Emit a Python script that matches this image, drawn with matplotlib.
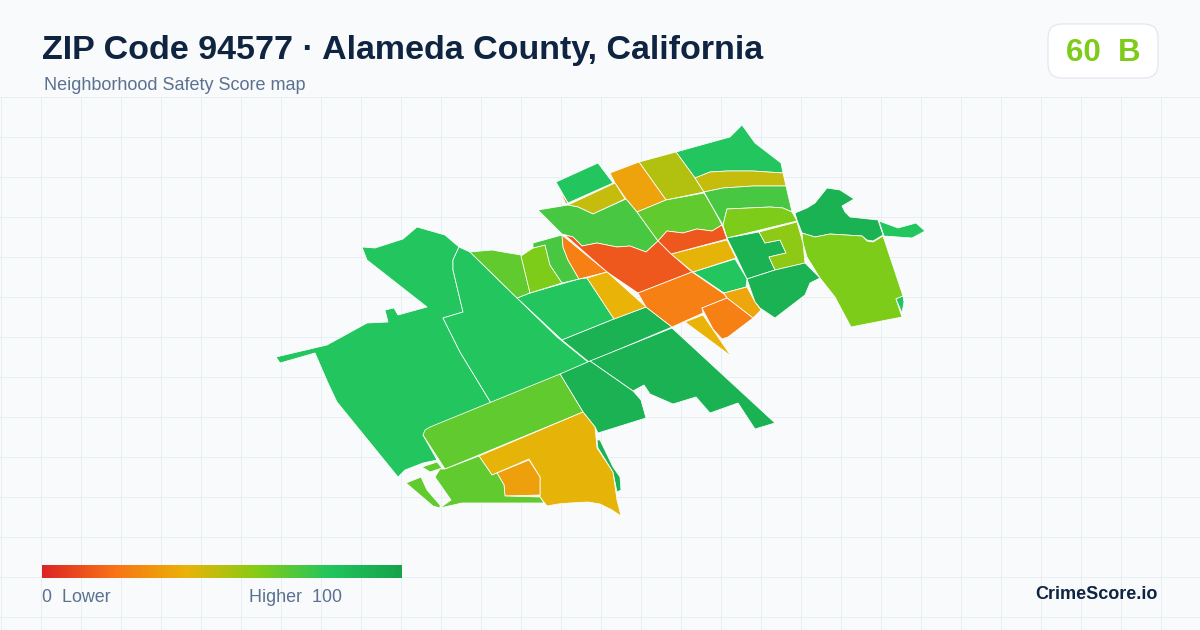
import numpy as np
import matplotlib
matplotlib.use("Agg")
import matplotlib.pyplot as plt
from matplotlib.collections import PolyCollection
from matplotlib.colors import LinearSegmentedColormap, Normalize
from matplotlib.patches import FancyBboxPatch

plt.rcParams["font.family"] = ["Liberation Sans", "DejaVu Sans"]

TITLE = "ZIP Code 94577 · Alameda County, California"
SUBTITLE = "Neighborhood Safety Score map"
SCORE_TEXT = "60  B"
BRAND = "CrimeScore.io"

BG = "#F8FAFC"
GRID = "#E8EFF3"
NAVY = "#0F2440"
SLATE = "#5B7190"
BADGE_GREEN = "#7ECB1A"

# colour scale for the safety score
scale_stops = [0, 20, 40, 60, 80, 100]
scale_colors = ["#DC2626", "#F97316", "#EAB308", "#84CC16", "#22C55E", "#16A34A"]

# tract outlines, traced in map units (1 unit = 1 px of the 1200x630 canvas)
west_big = [(362, 247), (375, 248), (403, 239), (417, 227), (445, 235), (459, 247), (453, 260), (453, 270),
            (463, 312), (443, 318), (460, 352), (491, 403), (432, 428), (423, 435), (437, 460), (423, 463),
            (405, 470), (398, 477), (337, 402), (328, 383), (315, 353), (280, 363), (276, 357), (327, 345),
            (367, 323), (388, 322), (385, 310), (394, 308), (398, 315), (427, 307), (367, 260)]
west_center = [(459, 247), (470, 252), (517, 298), (557, 337), (588, 362), (560, 375), (491, 403), (460, 352),
               (443, 318), (463, 312), (453, 270), (453, 260)]
north_center = [(517, 298), (530, 293), (579, 279), (587, 278), (614, 319), (562, 340)]
northwest_lime = [(470, 252), (492, 250), (503, 252), (521, 255), (530, 293), (517, 298)]
northwest_small = [(521, 256), (533, 248), (545, 245), (550, 265), (562, 283), (530, 293)]
northwest_strip = [(533, 243), (562, 235), (563, 247), (568, 260), (579, 279), (562, 283), (550, 265), (545, 245),
                   (533, 248)]
band_upper = [(562, 340), (614, 319), (646, 307), (672, 327), (589, 362)]
band_lower = [(590, 361), (672, 328), (775, 423), (755, 429), (738, 403), (710, 413), (696, 397), (673, 404),
              (650, 394), (644, 385), (633, 391)]
south_dark = [(560, 374), (590, 361), (633, 391), (641, 400), (646, 418), (598, 433), (595, 427), (583, 412)]
south_band = [(423, 435), (425, 430), (430, 427), (560, 374), (583, 412), (445, 469)]
south_yellow = [(479, 456), (583, 412), (595, 427), (597, 448), (613, 472), (617, 500), (621, 516), (612, 510),
                (600, 504), (588, 502), (570, 503), (558, 504), (547, 506), (540, 497), (540, 477), (529, 459),
                (492, 475)]
south_orange = [(497, 473), (529, 460), (540, 477), (540, 495), (505, 496), (504, 485)]
south_lime = [(445, 469), (479, 456), (492, 475), (497, 473), (504, 485), (505, 496), (540, 497), (544, 503),
              (508, 503), (462, 503), (440, 508), (451, 500), (435, 477), (440, 469)]
south_sliver = [(406, 483), (421, 477), (427, 490), (440, 505), (440, 508), (433, 506)]
south_scrap = [(422, 467), (437, 462), (442, 468), (430, 472)]
east_sliver = [(597, 440), (600, 440), (613, 467), (620, 477), (621, 490), (617, 492), (613, 472), (598, 448)]

top_right = [(676, 152), (730, 137), (742, 125), (755, 143), (781, 163), (783, 173), (753, 171), (727, 171),
             (710, 172), (695, 178)]
top_olive = [(639, 162), (676, 152), (695, 178), (704, 192), (666, 200)]
top_amber = [(610, 173), (639, 162), (666, 200), (637, 212), (626, 199), (615, 183)]
top_left = [(556, 182), (598, 163), (613, 183), (568, 203)]
top_scrap = [(559, 190), (568, 203), (566, 204)]
top_mustard = [(568, 205), (615, 183), (625, 199), (593, 214), (578, 207)]
mid_left = [(538, 210), (568, 205), (578, 207), (593, 214), (626, 199), (637, 212), (658, 241), (646, 252),
            (630, 246), (617, 247), (597, 243), (582, 246), (573, 237), (562, 234)]
mid_center = [(637, 212), (666, 200), (704, 193), (713, 208), (722, 225), (712, 231), (697, 229), (683, 233),
              (667, 231), (658, 241)]
mid_band = [(695, 178), (710, 172), (727, 171), (753, 171), (783, 173), (786, 186), (753, 186), (723, 188),
            (704, 192)]
mid_right = [(704, 192), (723, 188), (753, 186), (786, 186), (792, 212), (783, 208), (770, 207), (727, 209),
             (723, 225), (713, 208)]
lime_top = [(727, 209), (770, 207), (783, 208), (792, 212), (797, 221), (727, 238), (723, 225)]
hook_dark = [(795, 213), (807, 208), (815, 203), (827, 188), (840, 190), (854, 199), (842, 206), (845, 212),
             (850, 217), (878, 220), (883, 235), (873, 241), (867, 240), (862, 236), (830, 234), (815, 237),
             (802, 233), (797, 220)]
tail_green = [(879, 221), (898, 228), (916, 223), (925, 231), (912, 238), (884, 236)]
east_lime = [(802, 233), (815, 237), (830, 234), (862, 236), (867, 241), (873, 242), (883, 236), (903, 296),
             (896, 299), (902, 317), (851, 327), (835, 297), (820, 278), (807, 257), (803, 243)]
east_notch = [(896, 299), (903, 296), (904, 302), (902, 313)]
cross_dark = [(727, 238), (759, 232), (765, 243), (780, 240), (786, 253), (769, 257), (775, 270), (747, 279),
              (737, 258)]
cross_lime = [(759, 232), (797, 222), (803, 243), (805, 263), (775, 270), (769, 257), (786, 253), (780, 240),
              (765, 243)]
low_dark = [(747, 279), (775, 270), (805, 263), (815, 273), (820, 278), (810, 283), (805, 295), (775, 318),
            (760, 308), (755, 302)]
low_green = [(693, 272), (735, 259), (747, 279), (746, 287), (724, 293)]
low_yellow = [(671, 254), (727, 240), (736, 258), (693, 272)]
red_small = [(658, 241), (667, 231), (683, 233), (697, 229), (712, 231), (722, 225), (727, 239), (671, 254)]
red_big = [(565, 235), (573, 237), (582, 246), (597, 243), (617, 247), (630, 246), (646, 252), (658, 241),
           (671, 254), (692, 272), (638, 293), (607, 272)]
wedge_orange = [(562, 235), (607, 272), (579, 279), (568, 260), (563, 247)]
wedge_yellow = [(587, 278), (607, 272), (646, 307), (614, 319)]
orange_band = [(638, 293), (692, 272), (724, 294), (727, 298), (702, 308), (703, 313), (683, 322), (672, 327),
               (646, 307), (642, 300)]
amber_right = [(724, 293), (747, 287), (755, 302), (761, 310), (753, 318), (727, 298)]
orange_low = [(702, 308), (727, 298), (753, 318), (728, 337), (722, 339), (713, 329)]
yellow_spike = [(685, 322), (703, 315), (731, 356)]

tracts = [west_big, west_center, north_center, northwest_lime, northwest_small, northwest_strip, band_upper,
          band_lower, south_dark, south_band, south_yellow, south_orange, south_lime, south_sliver, south_scrap,
          east_sliver, top_right, top_olive, top_amber, top_left, top_scrap, top_mustard, mid_left, mid_center,
          mid_band, mid_right, lime_top, hook_dark, tail_green, east_lime, east_notch, cross_dark, cross_lime,
          low_dark, low_green, low_yellow, red_small, red_big, wedge_orange, wedge_yellow, yellow_spike,
          orange_band, amber_right, orange_low]
scores = [80, 80, 80, 67, 61, 72, 91,
          91, 91, 67, 41, 34, 67, 67, 67,
          91, 80, 51, 35, 80, 30, 47, 72, 67,
          47, 72, 61, 91, 80, 61, 80, 91, 58,
          91, 80, 41, 13, 13, 24, 40, 40,
          24, 36, 24]


def main() -> None:
    fig = plt.figure(figsize=(12, 6.3), dpi=100, facecolor=BG)
    ax = fig.add_axes([0, 0, 1, 1])
    ax.set_axis_off()

    # background grid, only below the header
    for x in range(0, 1200, 40):
        ax.plot([x + 0.5, x + 0.5], [97, 630], color=GRID, lw=0.72, zorder=1)
    for y in range(97, 630, 40):
        ax.plot([0, 1200], [y - 0.5, y - 0.5], color=GRID, lw=0.72, zorder=1)

    cmap = LinearSegmentedColormap.from_list(
        "safety", [(s / 100, c) for s, c in zip(scale_stops, scale_colors)]
    )
    norm = Normalize(0, 100)
    # white edges stay thin, same as the borders on the original map
    polys = PolyCollection(
        tracts, array=np.array(scores, dtype=float), cmap=cmap, norm=norm,
        edgecolors="white", linewidths=0.55, zorder=2,
    )
    ax.add_collection(polys)

    # legend bar
    ax.imshow(
        np.linspace(0, 100, 360).reshape(1, -1), cmap=cmap, norm=norm, aspect="auto",
        extent=(42, 402, 578, 565), zorder=3,
    )
    ax.text(42, 602.5, "0  Lower", fontsize=12.9, color=SLATE, ha="left", va="baseline")
    ax.text(342, 602.5, "Higher  100", fontsize=12.9, color=SLATE, ha="right", va="baseline")

    # header
    ax.text(42, 59, TITLE, fontsize=24.45, fontweight="bold", color=NAVY, ha="left", va="baseline")
    ax.text(44, 90.5, SUBTITLE, fontsize=13, color=SLATE, ha="left", va="baseline")

    # score badge
    badge = FancyBboxPatch(
        (1062, 38), 82, 26, boxstyle="round,pad=14,rounding_size=14", facecolor="white",
        edgecolor="#E0E6EE", linewidth=0.8, zorder=3,
    )
    ax.add_patch(badge)
    ax.text(1103, 61, SCORE_TEXT, fontsize=22.5, fontweight="bold", color=BADGE_GREEN, ha="center",
            va="baseline", zorder=4)

    ax.text(1158, 599, BRAND, fontsize=13, fontweight="bold", color=NAVY, ha="right", va="baseline")

    ax.set_xlim(0, 1200)
    ax.set_ylim(630, 0)
    fig.savefig("out.png", dpi=100, facecolor=BG)
    plt.close(fig)


if __name__ == "__main__":
    main()
